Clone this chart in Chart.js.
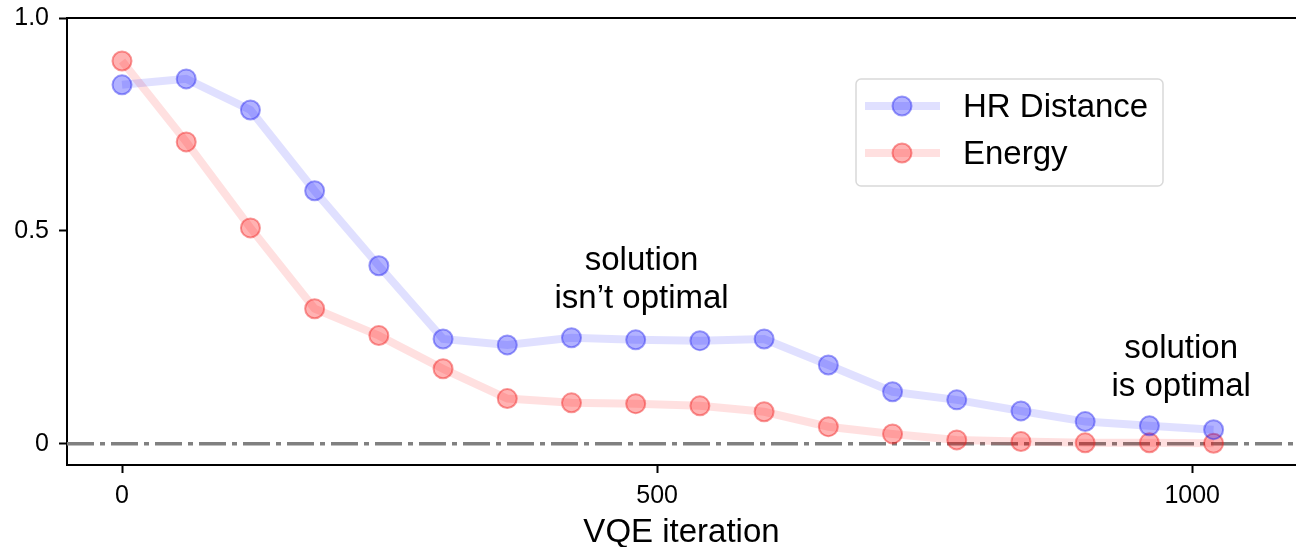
<!DOCTYPE html>
<html>
<head>
<meta charset="utf-8">
<script src="https://cdn.jsdelivr.net/npm/chart.js@4/dist/chart.umd.min.js"></script>
<style>
  html, body { margin: 0; padding: 0; background: #fff; overflow: hidden; }
  canvas { display: block; }
</style>
</head>
<body>
<canvas id="chart" width="1296" height="547"></canvas>
<script>
const iterations = [0, 60, 120, 180, 240, 300, 360, 420, 480, 540, 600, 660, 720, 780, 840, 900, 960, 1020];
const hrDistance = [0.843, 0.857, 0.784, 0.594, 0.418, 0.246, 0.232, 0.249, 0.244, 0.242, 0.246, 0.185, 0.122, 0.103, 0.077, 0.052, 0.042, 0.033];
const energy = [0.899, 0.709, 0.507, 0.317, 0.254, 0.176, 0.106, 0.096, 0.094, 0.089, 0.075, 0.040, 0.023, 0.009, 0.005, 0.002, 0.002, 0.001];
const seriesLabels = ['HR Distance', 'Energy'];
const xTicks = [0, 500, 1000];
const yTicks = [0, 0.5, 1.0];
const notes = [
  { x: 485.5, y: 0.407, lines: ['solution', 'isn\u2019t optimal'] },
  { x: 989.7, y: 0.202, lines: ['solution', 'is optimal'] }
];

const FONT = '"Liberation Sans", Arial, sans-serif';

const blue = { line: 'rgba(0,0,255,0.12)', fill: 'rgba(0,0,255,0.3)', edge: 'rgba(40,40,240,0.45)' };
const red = { line: 'rgba(255,0,0,0.12)', fill: 'rgba(255,0,0,0.3)', edge: 'rgba(240,30,30,0.45)' };

// zero reference line, top spine, text notes and the boxed legend
const extras = {
  id: 'extras',
  beforeDatasetsDraw(chart) {
    const { ctx, chartArea, scales } = chart;
    const y0 = scales.y.getPixelForValue(0);
    ctx.save();
    ctx.strokeStyle = '#808080';
    ctx.lineWidth = 3.5;
    ctx.setLineDash([27, 6, 5, 6]);
    ctx.beginPath();
    ctx.moveTo(chartArea.left, y0);
    ctx.lineTo(chartArea.right, y0);
    ctx.stroke();
    ctx.restore();
  },
  afterDraw(chart) {
    const { ctx, chartArea, scales } = chart;
    ctx.save();
    ctx.strokeStyle = '#000';
    ctx.lineWidth = 2;
    ctx.beginPath();
    ctx.moveTo(chartArea.left - 1, chartArea.top);
    ctx.lineTo(chartArea.right, chartArea.top);
    ctx.stroke();

    ctx.fillStyle = '#000';
    ctx.font = '33px ' + FONT;
    ctx.textAlign = 'center';
    ctx.textBaseline = 'alphabetic';
    notes.forEach(n => {
      const px = scales.x.getPixelForValue(n.x);
      const py = scales.y.getPixelForValue(n.y);
      n.lines.forEach((t, i) => ctx.fillText(t, px, py + i * 38));
    });

    // legend box
    const bx = 856, by = 79, bw = 307, bh = 107;
    ctx.strokeStyle = '#d9d9d9';
    ctx.lineWidth = 1.5;
    ctx.fillStyle = 'rgba(255,255,255,0.8)';
    ctx.beginPath();
    ctx.roundRect(bx, by, bw, bh, 5);
    ctx.fill();
    ctx.stroke();
    chart.data.datasets.forEach((ds, i) => {
      const ly = 106 + i * 47;
      ctx.strokeStyle = ds.borderColor;
      ctx.lineWidth = 8;
      ctx.beginPath();
      ctx.moveTo(865, ly);
      ctx.lineTo(940, ly);
      ctx.stroke();
      ctx.beginPath();
      ctx.arc(902, ly, 9.5, 0, Math.PI * 2);
      ctx.fillStyle = ds.pointBackgroundColor;
      ctx.fill();
      ctx.lineWidth = 2;
      ctx.strokeStyle = ds.pointBorderColor;
      ctx.stroke();
      ctx.fillStyle = '#000';
      ctx.font = '33px ' + FONT;
      ctx.textAlign = 'left';
      ctx.textBaseline = 'alphabetic';
      ctx.fillText(ds.label, 963, 117 + i * 47);
    });
    ctx.restore();
  }
};

function series(label, values, c) {
  return {
    label,
    data: iterations.map((x, i) => ({ x, y: values[i] })),
    borderColor: c.line,
    borderWidth: 8,
    pointRadius: 9.5,
    pointHoverRadius: 9.5,
    pointBackgroundColor: c.fill,
    pointBorderColor: c.edge,
    pointBorderWidth: 2,
    tension: 0
  };
}

new Chart(document.getElementById('chart'), {
  type: 'line',
  data: {
    datasets: [
      series(seriesLabels[0], hrDistance, blue),
      series(seriesLabels[1], energy, red)
    ]
  },
  options: {
    responsive: false,
    animation: false,
    devicePixelRatio: 1,
    layout: { autoPadding: false, padding: { top: 18, right: 0, left: 0, bottom: 0 } },
    plugins: {
      legend: { display: false },
      tooltip: { enabled: false }
    },
    scales: {
      x: {
        type: 'linear',
        min: -51.4,
        max: 1097,
        afterBuildTicks(axis) { axis.ticks = xTicks.map(v => ({ value: v })); },
        afterFit(axis) {
          axis.height = 82;
          axis.paddingLeft = 0;
          axis.paddingRight = 0;
        },
        ticks: {
          color: '#000',
          font: { family: FONT, size: 25 },
          padding: 8,
          maxRotation: 0,
          callback: v => String(v)
        },
        grid: { drawOnChartArea: false, drawTicks: true, tickLength: 8, tickColor: '#000', tickWidth: 2 },
        border: { color: '#000', width: 2 },
        title: {
          display: true,
          text: 'VQE iteration',
          color: '#000',
          font: { family: FONT, size: 33 },
          padding: { top: 0, bottom: -6 }
        }
      },
      y: {
        type: 'linear',
        min: -0.05,
        max: 1.0,
        afterBuildTicks(axis) { axis.ticks = yTicks.map(v => ({ value: v })); },
        afterFit(axis) {
          axis.width = 67;
          axis.paddingTop = 0;
          axis.paddingBottom = 0;
        },
        ticks: {
          color: '#000',
          font: { family: FONT, size: 25 },
          padding: 10,
          callback: v => (v === 0 ? '0' : v.toFixed(1))
        },
        grid: { drawOnChartArea: false, drawTicks: true, tickLength: 8, tickColor: '#000', tickWidth: 2 },
        border: { color: '#000', width: 2 }
      }
    }
  },
  plugins: [extras]
});
</script>
</body>
</html>
